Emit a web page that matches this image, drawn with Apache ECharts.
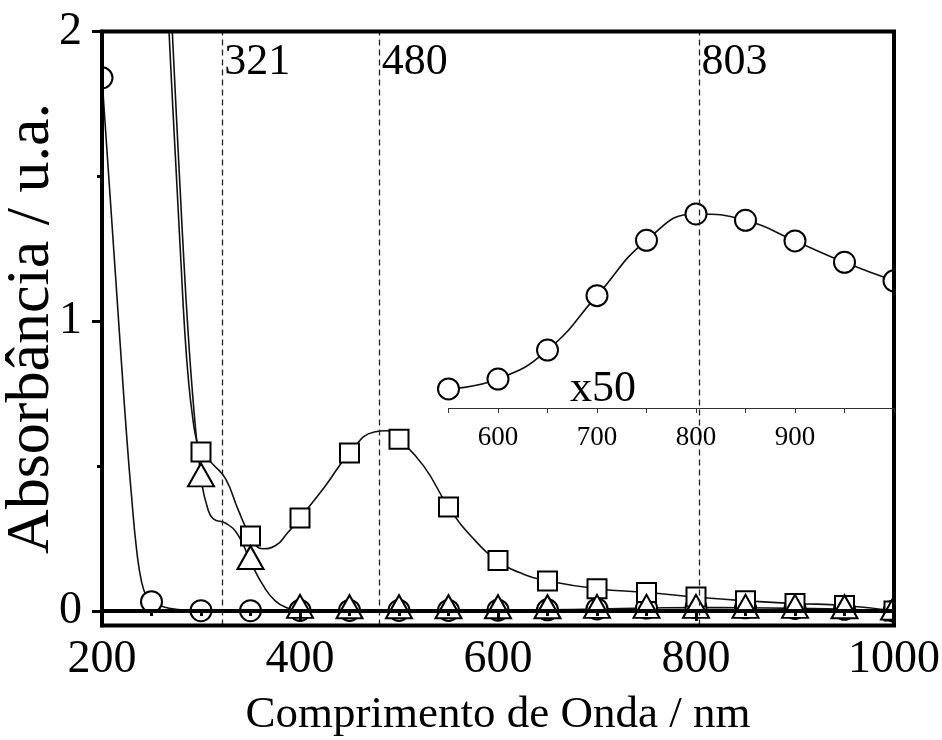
<!DOCTYPE html>
<html>
<head>
<meta charset="utf-8">
<script src="https://cdn.jsdelivr.net/npm/echarts@6/dist/echarts.min.js"></script>
<style>
  html, body { margin: 0; padding: 0; background: #fff; }
  #chart { width: 942px; height: 740px; }
</style>
</head>
<body>
<div id="chart"></div>
<script>
// Absorbance spectra, wavelength in nm. Marker points every 50 nm,
// plus extra points traced along each curve where it bends sharply.
const circleMarkers = [
  [200, 1.840], [250, 0.032], [300, 0.001], [350, 0.001], [400, 0.002],
  [450, 0.002], [500, 0.002], [550, 0.002], [600, 0.003], [650, 0.004],
  [700, 0.007], [750, 0.010], [800, 0.012], [850, 0.011], [900, 0.009],
  [950, 0.006], [1000, 0.000]
];
const circleCurvePoints = [
  [205, 1.59], [210, 1.34], [215, 1.09], [220, 0.84], [225, 0.60],
  [230, 0.39], [235, 0.21], [240, 0.10], [245, 0.05], [262.5, 0.014], [275, 0.006]
];

const squareMarkers = [
  [300, 0.549], [350, 0.259], [400, 0.321], [450, 0.545], [500, 0.593],
  [550, 0.359], [600, 0.174], [650, 0.104], [700, 0.077], [750, 0.064],
  [800, 0.048], [850, 0.035], [900, 0.026], [950, 0.019], [1000, 0.000]
];
const squareCurvePoints = [
  [264, 2.26], [267.7, 2.00], [271.5, 1.74], [275.5, 1.48], [279.5, 1.22],
  [283.5, 0.97], [287.5, 0.79], [291.5, 0.67], [295.5, 0.59],
  [312.5, 0.505], [325, 0.455], [337.5, 0.350], [362.5, 0.215], [375, 0.225],
  [387.5, 0.270], [425, 0.429], [475, 0.618], [487.5, 0.622], [525, 0.500],
  [575, 0.250], [625, 0.128]
];

const triangleMarkers = [
  [300, 0.456], [350, 0.171], [400, 0.002], [450, 0.001], [500, 0.001],
  [550, 0.001], [600, 0.001], [650, 0.001], [700, 0.002], [750, 0.002],
  [800, 0.002], [850, 0.002], [900, 0.002], [950, 0.001], [1000, -0.004]
];
const triangleCurvePoints = [
  [267, 2.28], [271, 2.00], [275, 1.72], [279, 1.45], [283, 1.19],
  [287, 0.96], [291, 0.77], [295, 0.61], [298, 0.52], [306.25, 0.36],
  [312.5, 0.318], [325, 0.303], [337.5, 0.262], [362.5, 0.090], [375, 0.035],
  [387.5, 0.010]
];

// Circle spectrum magnified 50 times (inset)
const insetCircleMarkers = [
  [550, 0.066], [600, 0.100], [650, 0.200], [700, 0.388], [750, 0.579],
  [800, 0.670], [850, 0.648], [900, 0.577], [950, 0.503], [1000, 0.439]
];

const peakWavelengths = [321, 480, 803];
const yTickValues = [0, 1, 2];
const yMinorTickValues = [0.5, 1.5];
const insetTickLabels = [600, 700, 800, 900];

const FONT = 'Liberation Serif';

function mergeCurve(markers, extra) {
  return markers.concat(extra).sort((a, b) => a[0] - b[0]);
}

const curveStyle = { color: '#111', width: 1.6 };
const markerStyle = { color: '#fff', borderColor: '#000', borderWidth: 2, opacity: 1 };

function curve(data, gridIdx) {
  return {
    type: 'line', data: data, xAxisIndex: gridIdx, yAxisIndex: gridIdx === 0 ? 0 : 2,
    smooth: 0.5, symbol: 'none', showSymbol: false,
    lineStyle: curveStyle, clip: true, z: 2, silent: true
  };
}

const plain = v => String(v);

const chart = echarts.init(document.getElementById('chart'), null, { renderer: 'canvas' });

chart.setOption({
  animation: false,
  backgroundColor: '#fff',
  textStyle: { fontFamily: FONT, color: '#000' },
  grid: [
    { left: 102, right: 48, top: 31.5, bottom: 114.5, show: true,
      containLabel: false, outerBoundsMode: 'none',
      borderColor: '#000', borderWidth: 4, z: 20 },
    { left: 448.5, right: 48, top: 31.5, bottom: 332, show: false,
      containLabel: false, outerBoundsMode: 'none' }
  ],
  xAxis: [
    {
      type: 'value', gridIndex: 0, min: 200, max: 1000, interval: 200, z: 21,
      position: 'bottom',
      name: 'Comprimento de Onda / nm', nameLocation: 'middle', nameGap: 67,
      nameTextStyle: { fontFamily: FONT, fontSize: 45, color: '#000' },
      axisLine: { lineStyle: { color: '#000', width: 4 } },
      axisTick: { length: 10, lineStyle: { color: '#000', width: 3 } },
      minorTick: { show: true, splitNumber: 4, length: 5, lineStyle: { color: '#000', width: 3 } },
      axisLabel: { fontFamily: FONT, fontSize: 46, color: '#000', margin: 11, formatter: plain },
      splitLine: { show: false }
    },
    {
      type: 'value', gridIndex: 1, min: 550, max: 1000, interval: 50, z: 21,
      position: 'bottom',
      axisLine: { lineStyle: { color: '#333', width: 1 } },
      axisTick: { length: 5, lineStyle: { color: '#333', width: 1 } },
      axisLabel: { customValues: insetTickLabels, fontFamily: FONT, fontSize: 27,
        color: '#000', margin: 16, formatter: plain },
      splitLine: { show: false }
    }
  ],
  yAxis: [
    {
      type: 'value', gridIndex: 0, min: -0.05, max: 2, z: 21, position: 'left',
      name: 'Absorbância / u.a.', nameLocation: 'middle', nameGap: 39,
      nameMoveOverlap: false,
      nameTextStyle: { fontFamily: FONT, fontSize: 62, color: '#000' },
      axisLine: { show: true, lineStyle: { color: '#000', width: 4 } },
      axisTick: { customValues: yTickValues, length: 10, lineStyle: { color: '#000', width: 3 } },
      axisLabel: { customValues: yTickValues, fontFamily: FONT, fontSize: 46,
        color: '#000', margin: 20, formatter: plain },
      splitLine: { show: false }
    },
    {
      type: 'value', gridIndex: 0, min: -0.05, max: 2, z: 21, position: 'left',
      axisLine: { show: false },
      axisTick: { customValues: yMinorTickValues, length: 5, lineStyle: { color: '#000', width: 3 } },
      axisLabel: { show: false },
      splitLine: { show: false }
    },
    {
      type: 'value', gridIndex: 1, min: 0, max: 1.3, show: false
    }
  ],
  graphic: [
    // white margins clip markers that sit on the frame edges
    { type: 'rect', shape: { x: 0, y: 0, width: 102, height: 740 },
      style: { fill: '#fff' }, z: 15, silent: true },
    { type: 'rect', shape: { x: 894, y: 0, width: 48, height: 740 },
      style: { fill: '#fff' }, z: 15, silent: true },
    { type: 'text', x: 570, y: 389, z: 10,
      style: { text: 'x50', fontFamily: FONT, fontSize: 44, fill: '#000',
        align: 'left', verticalAlign: 'middle' } }
  ],
  series: [
    curve(mergeCurve(circleMarkers, circleCurvePoints), 0),
    curve(mergeCurve(squareMarkers, squareCurvePoints), 0),
    curve(mergeCurve(triangleMarkers, triangleCurvePoints), 0),
    curve(insetCircleMarkers, 1),
    {
      type: 'scatter', data: circleMarkers, xAxisIndex: 0, yAxisIndex: 0,
      symbol: 'circle', symbolSize: 21, itemStyle: markerStyle, z: 3, silent: true
    },
    {
      type: 'scatter', data: squareMarkers, xAxisIndex: 0, yAxisIndex: 0,
      symbol: 'rect', symbolSize: 19, itemStyle: markerStyle, z: 4, silent: true
    },
    {
      type: 'scatter', data: triangleMarkers, xAxisIndex: 0, yAxisIndex: 0,
      symbol: 'triangle', symbolSize: [26, 23], symbolOffset: [0, -4],
      itemStyle: markerStyle, z: 5, silent: true
    },
    {
      type: 'scatter', data: insetCircleMarkers, xAxisIndex: 1, yAxisIndex: 2,
      symbol: 'circle', symbolSize: 21, itemStyle: markerStyle, z: 3, silent: true
    },
    {
      // peak positions: dashed guides with their wavelength written at the top
      type: 'scatter', xAxisIndex: 0, yAxisIndex: 0, silent: true,
      data: peakWavelengths.map(v => [v, 2]),
      symbolSize: 1, itemStyle: { color: 'transparent', opacity: 1 }, z: 8,
      label: {
        show: true, formatter: p => String(p.value[0]), position: [3, 31],
        align: 'left', verticalAlign: 'middle', opacity: 1,
        fontFamily: FONT, fontSize: 44, color: '#000'
      },
      markLine: {
        silent: true, symbol: ['none', 'none'], z: 8,
        label: { show: false },
        lineStyle: { type: [6, 4], color: '#222', width: 1.3, opacity: 1 },
        data: peakWavelengths.map(v => ({ xAxis: v }))
      }
    }
  ]
});
</script>
</body>
</html>
